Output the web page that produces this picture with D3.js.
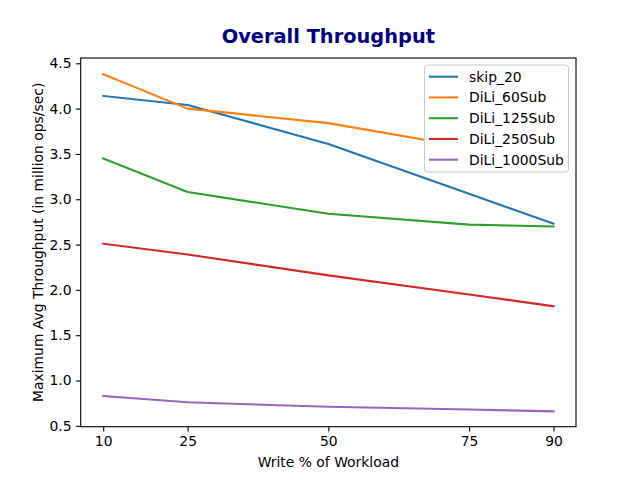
<!DOCTYPE html>
<html><head><meta charset="utf-8">
<script src="https://cdn.jsdelivr.net/npm/d3@7"></script>
<style>body{margin:0;background:#fff}svg{display:block}text{font-family:"DejaVu Sans",sans-serif}</style>
</head><body><svg id="c" width="640" height="480"></svg>
<script>
const writePct = [10, 25, 50, 75, 90];
const xTicks = [10, 25, 50, 75, 90];
const yTicks = [0.5, 1.0, 1.5, 2.0, 2.5, 3.0, 3.5, 4.0, 4.5];
const seriesNames = ["skip_20", "DiLi_60Sub", "DiLi_125Sub", "DiLi_250Sub", "DiLi_1000Sub"];
const skip20 = [4.14, 4.04, 3.61, 3.06, 2.73];
const dili60 = [4.38, 4.00, 3.84, 3.57, 3.48];
const dili125 = [3.45, 3.08, 2.84, 2.72, 2.70];
const dili250 = [2.51, 2.39, 2.16, 1.95, 1.82];
const dili1000 = [0.83, 0.76, 0.71, 0.68, 0.66];
const colors = ["#1f77b4", "#ff7f0e", "#2ca02c", "#d62728", "#9467bd"];
const allSeries = [skip20, dili60, dili125, dili250, dili1000];

const svg = d3.select("#c");
const L = 80.7, R = 576, T = 58, B = 426.7;
const x = d3.scaleLinear().domain([6, 94]).range([L, R]);
const y = d3.scaleLinear().domain([0.4906, 4.5585]).range([B, T]);

const line = d3.line().x((d, i) => x(writePct[i])).y(d => y(d));
const g = svg.append("g");
allSeries.forEach((s, k) => {
  g.append("path").datum(s).attr("d", line).attr("fill", "none")
    .attr("stroke", colors[k]).attr("stroke-width", 2.08).attr("stroke-linejoin", "round").attr("stroke-linecap", "square");
});

const xAxis = svg.append("g").attr("transform", `translate(0,${B})`)
  .call(d3.axisBottom(x).tickValues(xTicks).tickFormat(d3.format("d")).tickSize(4.9).tickPadding(4.2).tickSizeOuter(0));
const yAxis = svg.append("g").attr("transform", `translate(${L},0)`)
  .call(d3.axisLeft(y).tickValues(yTicks).tickFormat(d3.format(".1f")).tickSize(4.9).tickPadding(4.2).tickSizeOuter(0));
[xAxis, yAxis].forEach(a => {
  a.select(".domain").remove();
  a.selectAll("line").attr("stroke", "#000").attr("stroke-width", 1.1);
  a.selectAll("text").attr("font-size", 13.9).attr("fill", "#000").attr("font-family", "DejaVu Sans");
});
svg.append("rect").attr("x", L).attr("y", T).attr("width", R - L).attr("height", B - T)
  .attr("fill", "none").attr("stroke", "#000").attr("stroke-width", 1.1);

svg.append("text").attr("x", (L + R) / 2).attr("y", 43).attr("text-anchor", "middle")
  .attr("font-size", 19.4).attr("font-weight", "bold").attr("fill", "#000080").text("Overall Throughput");
svg.append("text").attr("x", (L + R) / 2).attr("y", 466.5).attr("text-anchor", "middle")
  .attr("font-size", 13.9).text("Write % of Workload");
svg.append("text").attr("transform", `translate(42.5,${(T + B) / 2}) rotate(-90)`).attr("text-anchor", "middle")
  .attr("font-size", 13.9).text("Maximum Avg Throughput (in million ops/sec)");

// legend
const lg = svg.append("g");
lg.append("rect").attr("x", 424.5).attr("y", 65).attr("width", 144).attr("height", 107).attr("rx", 3)
  .attr("fill", "#fff").attr("stroke", "#cccccc").attr("stroke-width", 1);
seriesNames.forEach((n, k) => {
  const cy = 76.7 + k * 20.75;
  lg.append("line").attr("x1", 429).attr("x2", 458).attr("y1", cy).attr("y2", cy)
    .attr("stroke", colors[k]).attr("stroke-width", 2.08);
  lg.append("text").attr("x", 469).attr("y", cy + 5).attr("font-size", 13.9).text(n);
});
</script></body></html>
